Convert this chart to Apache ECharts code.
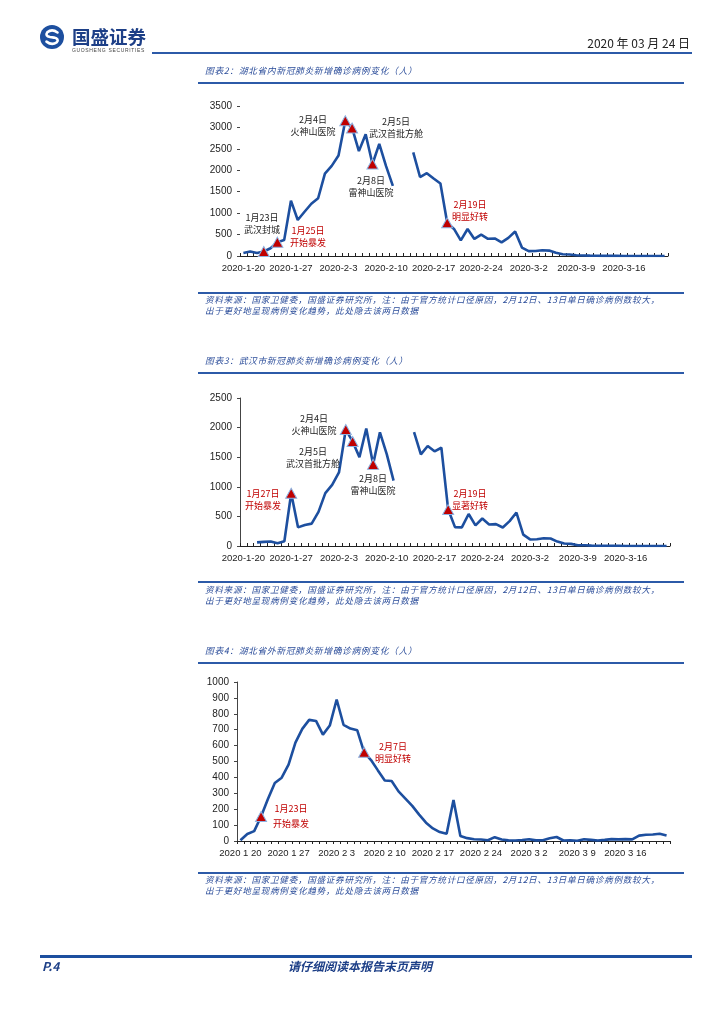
<!DOCTYPE html>
<html><head><meta charset="utf-8">
<script src="https://cdn.jsdelivr.net/npm/echarts/dist/echarts.min.js"></script>
<style>
html,body{margin:0;padding:0;background:#fff;}
#page{position:relative;width:724px;height:1024px;overflow:hidden;font-family:"Noto Sans CJK SC","Noto Sans",sans-serif;}
#chart{position:absolute;left:0;top:0;width:724px;height:1024px;}
.t{position:absolute;white-space:nowrap;line-height:1;}
.rule{position:absolute;background:#2c5aa8;}
.title{font-style:italic;color:#2b4d9a;font-size:8.8px;letter-spacing:0.6px;}
.src{font-style:italic;color:#2b4d9a;font-size:8.6px;letter-spacing:0.7px;}
</style></head>
<body>
<div id="page">
  <div id="chart"></div>
  <svg class="t" style="left:39px;top:24px" width="26" height="26" viewBox="0 0 26 26">
    <circle cx="13" cy="13" r="12" fill="#1d4f9f"/>
    <path d="M18.5 8.5 Q13 4.5 8.3 8.3 Q5.8 12 11 13 L15 13.6 Q20.5 15 17.8 18.2 Q13 21.8 7.5 17.6" fill="none" stroke="#fff" stroke-width="2.6" stroke-linecap="round"/>
  </svg>
  <div class="t" style="left:72px;top:27px;font-size:18.5px;font-weight:bold;color:#1d3f87;">国盛证券</div>
  <div class="t" style="left:72px;top:48px;font-size:5px;letter-spacing:0.65px;color:#444;font-family:'Liberation Sans',sans-serif;">GUOSHENG SECURITIES</div>
  <div class="t" style="right:34px;top:37px;font-size:12px;color:#222;">2020 年 03 月 24 日</div>
  <div class="rule" style="left:152px;top:52px;width:540px;height:1.5px;"></div>

  <div class="t title" style="left:205px;top:67px;">图表2：湖北省内新冠肺炎新增确诊病例变化（人）</div>
  <div class="rule" style="left:198px;top:82px;width:486px;height:1.5px;"></div>
  <div class="rule" style="left:198px;top:292px;width:486px;height:1.5px;"></div>
  <div class="t src" style="left:205px;top:295px;">资料来源：国家卫健委，国盛证券研究所，注：由于官方统计口径原因，2月12日、13日单日确诊病例数较大，</div>
  <div class="t src" style="left:205px;top:306px;">出于更好地呈现病例变化趋势，此处隐去该两日数据</div>

  <div class="t title" style="left:205px;top:357px;">图表3：武汉市新冠肺炎新增确诊病例变化（人）</div>
  <div class="rule" style="left:198px;top:372px;width:486px;height:1.5px;"></div>
  <div class="rule" style="left:198px;top:581px;width:486px;height:1.5px;"></div>
  <div class="t src" style="left:205px;top:585px;">资料来源：国家卫健委，国盛证券研究所，注：由于官方统计口径原因，2月12日、13日单日确诊病例数较大，</div>
  <div class="t src" style="left:205px;top:596px;">出于更好地呈现病例变化趋势，此处隐去该两日数据</div>

  <div class="t title" style="left:205px;top:647px;">图表4：湖北省外新冠肺炎新增确诊病例变化（人）</div>
  <div class="rule" style="left:198px;top:662px;width:486px;height:1.5px;"></div>
  <div class="rule" style="left:198px;top:872px;width:486px;height:1.5px;"></div>
  <div class="t src" style="left:205px;top:875px;">资料来源：国家卫健委，国盛证券研究所，注：由于官方统计口径原因，2月12日、13日单日确诊病例数较大，</div>
  <div class="t src" style="left:205px;top:886px;">出于更好地呈现病例变化趋势，此处隐去该两日数据</div>

  <div class="rule" style="left:40px;top:955px;width:652px;height:2.5px;background:#1d4f9f;"></div>
  <div class="t" style="left:42px;top:960px;font-size:12px;font-weight:bold;font-style:italic;color:#1d3f87;">P.4</div>
  <div class="t" style="left:288px;top:960px;font-size:12px;font-weight:bold;font-style:italic;color:#1d3f87;">请仔细阅读本报告末页声明</div>
</div>
<script>
// ---- data ----
const dates = [];
for (let i = 0; i < 63; i++) {
  const d = new Date(2020, 0, 20 + i);
  dates.push(d.getFullYear() + '-' + (d.getMonth() + 1) + '-' + d.getDate());
}
// 湖北省内 (1-20 .. 3-22), 2-12 / 2-13 hidden
const hubei = [72,105,69,105,180,323,371,1291,840,1032,1220,1347,
  1921,2103,2345,3156,2987,2447,2841,2147,2618,2097,1638,null,null,2420,1843,1933,1807,1693,775,631,366,630,398,499,401,409,318,423,570,
  196,114,115,134,126,74,41,36,17,13,8,5,4,4,4,1,1,0,0,0,0,0];
// 武汉市
const wuhan = [null,null,62,70,77,46,80,892,315,356,378,576,
  894,1033,1242,1967,1766,1501,1985,1379,1921,1552,1104,null,null,1923,1548,1690,1600,1660,615,319,314,541,348,464,364,370,313,420,565,
  193,111,114,131,126,74,41,36,13,13,7,5,4,4,4,1,1,0,0,0,0,0];
// 湖北省外
const outside = [5,44,62,154,264,365,398,480,619,705,762,755,
  669,726,890,731,707,696,558,509,444,381,377,312,267,221,166,115,79,56,45,258,31,18,11,9,5,24,9,4,3,
  6,11,4,5,17,25,3,4,2,11,7,3,7,12,10,12,10,34,39,41,46,35];
const hubeiEvents = ['2020-1-23','2020-1-25','2020-2-4','2020-2-5','2020-2-8','2020-2-19'];
const wuhanEvents = ['2020-1-27','2020-2-4','2020-2-5','2020-2-8','2020-2-19'];
const outsideEvents = ['2020-1-23','2020-2-7'];
const yTicks1 = [0, 3500, 500];
const yTicks2 = [0, 2500, 500];
const yTicks3 = [0, 1000, 100];

// ---- chart ----
const LINE = '#1d4f9f';
const RED = '#c00000';
function pts(events, arr) {
  return events.map(d => [dates.indexOf(d), arr[dates.indexOf(d)]]);
}
function xAxis(gi, inside, fmt) {
  return {
    type: 'category', gridIndex: gi, data: dates, boundaryGap: true,
    axisLine: { lineStyle: { color: '#222', width: 1 } },
    axisTick: { show: true, interval: 0, inside: inside, length: 3, lineStyle: { color: '#222' } },
    axisLabel: { interval: 6, fontSize: 9.5, color: '#222', margin: 7, fontFamily: 'Liberation Sans',
      formatter: fmt || (v => v) },
    splitLine: { show: false }
  };
}
function yAxis(gi, t, showLine) {
  return {
    type: 'value', gridIndex: gi, min: t[0], max: t[1], interval: t[2],
    axisLine: { show: showLine, lineStyle: { color: '#444', width: 1 } },
    axisTick: { show: true, length: 3, lineStyle: { color: '#444' } },
    axisLabel: { fontSize: 10, color: '#222', margin: 8, fontFamily: 'Liberation Sans',
      formatter: v => String(v) },
    splitLine: { show: false }
  };
}
function lineS(i, arr) {
  return { type: 'line', xAxisIndex: i, yAxisIndex: i, data: arr, showSymbol: false, connectNulls: false,
    lineStyle: { color: LINE, width: 2.6 }, itemStyle: { color: LINE }, z: 2, silent: true };
}
function triS(i, p) {
  return { type: 'scatter', xAxisIndex: i, yAxisIndex: i, data: p, symbol: 'triangle', symbolSize: [11, 10],
    itemStyle: { color: RED, borderColor: '#8db3e2', borderWidth: 1, opacity: 1 }, z: 5, silent: true };
}
function note(x, y, txt, color, lh) {
  return { type: 'text', x: x, y: y, z: 10,
    style: { text: txt, textAlign: 'center', textVerticalAlign: 'top', fill: color,
      font: '9px "Noto Sans CJK SC"', lineHeight: lh || 12.5 } };
}
const chart = echarts.init(document.getElementById('chart'), null, { renderer: 'canvas' });
chart.setOption({
  animation: false,
  grid: [
    { left: 240, right: 56, top: 106, height: 150 },
    { left: 240, right: 54, top: 398, height: 148 },
    { left: 237, right: 54, top: 682, height: 159 }
  ],
  xAxis: [xAxis(0, true), xAxis(1, true), xAxis(2, false, v => v.replace(/-/g, ' '))],
  yAxis: [yAxis(0, yTicks1, false), yAxis(1, yTicks2, true), yAxis(2, yTicks3, true)],
  series: [
    lineS(0, hubei), triS(0, pts(hubeiEvents, hubei)),
    lineS(1, wuhan), triS(1, pts(wuhanEvents, wuhan)),
    lineS(2, outside), triS(2, pts(outsideEvents, outside))
  ],
  graphic: [
    note(262, 211, '1月23日\n武汉封城', '#222'),
    note(308, 224, '1月25日\n开始暴发', RED),
    note(313, 113, '2月4日\n火神山医院', '#222'),
    note(396, 115, '2月5日\n武汉首批方舱', '#222'),
    note(371, 174, '2月8日\n雷神山医院', '#222'),
    note(470, 198, '2月19日\n明显好转', RED),
    note(263, 487, '1月27日\n开始暴发', RED),
    note(314, 412, '2月4日\n火神山医院', '#222'),
    note(313, 445, '2月5日\n武汉首批方舱', '#222'),
    note(373, 472, '2月8日\n雷神山医院', '#222'),
    note(470, 487, '2月19日\n显著好转', RED),
    note(291, 801, '1月23日\n开始暴发', RED, 15),
    note(393, 740, '2月7日\n明显好转', RED)
  ]
});
</script>
</body></html>
